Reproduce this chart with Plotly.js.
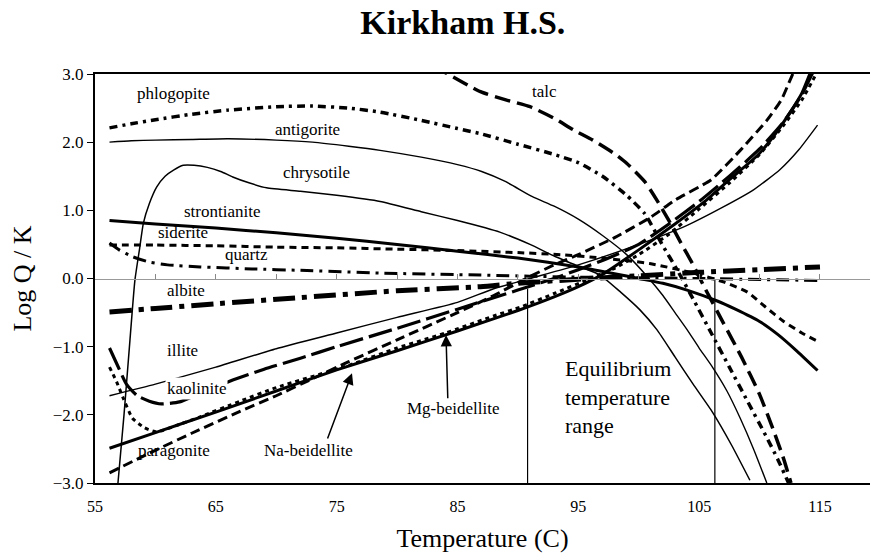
<!DOCTYPE html>
<html><head><meta charset="utf-8">
<script src="https://cdn.plot.ly/plotly-3.0.1.min.js"></script>
<style>html,body{margin:0;padding:0;background:#fff}#chart{width:870px;height:557px}</style>
</head><body><div id="chart"></div>
<script>
// ---- data (Temperature in C, Log Q/K) ----
const phlogopiteT = [56.2,58,60,63,66,70,73,76,78.6,82,85,87,90,93,95,97,99,100.5,102,103.2,104.5,106,107.5,109,110.5,111.5,112.4];
const phlogopiteY = [2.21,2.27,2.33,2.41,2.47,2.52,2.53,2.5,2.44,2.32,2.2,2.12,1.97,1.82,1.7,1.5,1.22,0.95,0.48,0.12,-0.3,-0.8,-1.3,-1.8,-2.3,-2.65,-3.0];

const talcT = [83,84,86.9,89,91,93,94.6,96.2,98,99,100.5,101.5,102.5,103.5,104.5,105.5,107,108.5,110,111.2,112,112.6];
const talcY = [3.12,3.02,2.74,2.62,2.52,2.35,2.18,2.03,1.83,1.69,1.42,1.15,0.85,0.52,0.2,-0.15,-0.65,-1.15,-1.7,-2.25,-2.65,-3.0];

const antigoriteT = [56.2,58,60,63,66,70,73,76,78.6,82,85,87,89,91.2,93,95,97,99,100.7,102,103,104,105,106.1,107.3,108.4,109.5,110.6];
const antigoriteY = [2.0,2.02,2.03,2.04,2.05,2.03,2.0,1.94,1.88,1.78,1.67,1.57,1.42,1.2,1.06,0.87,0.63,0.35,0.03,-0.25,-0.5,-0.75,-1.02,-1.3,-1.65,-2.05,-2.5,-3.0];

const chrysotileT = [56.9,57.4,57.85,58.3,58.7,59,59.5,60.1,60.8,61.5,62.3,63.2,64.3,65.4,66.4,67.8,69.2,72,75,78.6,82,85,88.5,91,93,95,96.8,98.5,100.1,101.5,103,104.5,106.1,107.7,109.2];
const chrysotileY = [-3.0,-2.0,-1.0,-0.03,0.45,0.81,1.1,1.34,1.5,1.59,1.66,1.66,1.63,1.57,1.49,1.4,1.33,1.28,1.22,1.13,0.98,0.85,0.68,0.5,0.33,0.18,0.05,-0.2,-0.46,-0.75,-1.15,-1.55,-1.96,-2.45,-2.96];

const strontianiteT = [56.2,60,65,70,75,80,85,90,95,98,100,102,104,106.5,108,110,111.5,113,114.8];
const strontianiteY = [0.85,0.8,0.74,0.67,0.59,0.5,0.4,0.3,0.17,0.07,0.0,-0.07,-0.17,-0.33,-0.45,-0.63,-0.82,-1.05,-1.35];

const sideriteT = [56.2,60,65,70,75,80,85,90,93.5,97,100.9,104.5,107,109,110.5,112,113.5,114.8];
const sideriteY = [0.49,0.49,0.48,0.46,0.45,0.43,0.41,0.38,0.35,0.3,0.22,0.08,-0.05,-0.2,-0.42,-0.63,-0.8,-0.92];

const quartzT = [56.2,57,58.1,59.5,61,63.7,68,72,78.6,86.9,95,105,115];
const quartzY = [0.52,0.42,0.32,0.24,0.2,0.17,0.14,0.12,0.08,0.05,0.02,0.0,-0.03];

const albiteT = [56.2,60,65,72,80,86.9,90,95,100,105,110,115];
const albiteY = [-0.49,-0.44,-0.37,-0.28,-0.18,-0.12,-0.07,-0.01,0.04,0.09,0.13,0.17];

const kaoliniteT = [56.2,56.8,57.6,58.5,59.5,60.5,62,64,66.4,69,72,75,80,85,90,93,95,97.5,100,102.5,105,107.5,110,112,113.5,114.4];
const kaoliniteY = [-1.02,-1.25,-1.55,-1.72,-1.8,-1.84,-1.81,-1.66,-1.49,-1.33,-1.17,-1.0,-0.73,-0.45,-0.17,0.0,0.13,0.3,0.5,0.8,1.13,1.5,1.9,2.3,2.7,3.02];

const mgBeidelliteT = [56.2,56.8,57.3,58.1,59.1,60.1,62,63.7,67,70,75.9,80,84,88,90.2,93,96,98,100,102.5,105,107.5,110,112,113.5,114.75];
const mgBeidelliteY = [-1.3,-1.52,-1.74,-2.05,-2.19,-2.25,-2.14,-2.03,-1.8,-1.6,-1.28,-1.02,-0.8,-0.55,-0.42,-0.22,0.0,0.15,0.35,0.65,1.02,1.4,1.82,2.25,2.62,3.02];

const naBeidelliteT = [56.2,60,65,70,75,80,85,90,93,95,97,100,103,105.6,107.5,109.8,111,112.5,113.5,114.2];
const naBeidelliteY = [-2.49,-2.26,-1.96,-1.65,-1.34,-1.06,-0.77,-0.47,-0.27,-0.12,0.06,0.42,0.8,1.15,1.45,1.8,2.05,2.43,2.72,3.02];

const illiteT = [56.2,60,65,70,75,80,85,88,91,95,100,104,107,109.5,111.7,113.3,114.8];
const illiteY = [-1.72,-1.55,-1.3,-1.03,-0.8,-0.57,-0.35,-0.15,0.0,0.2,0.5,0.78,1.05,1.3,1.6,1.9,2.25];

const paragoniteT = [56.2,60,63,67,70,73,76,80,85,88,91,93,95,98,101,103,106,108.4,110.6,111.8,112.5,113];
const paragoniteY = [-2.85,-2.52,-2.27,-1.95,-1.72,-1.47,-1.22,-0.9,-0.5,-0.25,0.03,0.2,0.35,0.6,0.9,1.15,1.45,1.88,2.32,2.62,2.9,3.1];

// equilibrium temperature range markers
const eqRangeT = [90.8, 106.3];
const eqRangeTop = [-0.15, -0.02];
const axisBottom = -3.0;

// text labels
const labelText = ['phlogopite','antigorite','chrysotile','strontianite','siderite','quartz','albite','illite','kaolinite','paragonite','Na-beidellite','Mg-beidellite','talc'];
const labelT    = [61.5, 72.6, 73.3, 65.5, 62.3, 67.5, 62.5, 62.2, 63.4, 61.5, 72.7, 84.7, 92.2];
const labelY    = [2.72, 2.18, 1.55, 0.99, 0.67, 0.345, -0.17, -1.06, -1.61, -2.52, -2.52, -1.91, 2.74];

// arrows [tail T, tail Y, head T, head Y]
const naArrow = [74.2, -2.37, 76.27, -1.39];
const mgArrow = [84.2, -1.78, 84.05, -0.83];

const SERIF = 'Liberation Serif';

function line(name, x, y, width, dash){
  return {type:'scatter', mode:'lines', name:name, x:x, y:y, showlegend:false,
    line:{color:'#000', width:width, dash:dash||'solid', shape:'spline', smoothing:0.5}};
}

const traces = [
  line('antigorite', antigoriteT, antigoriteY, 1.4),
  line('chrysotile', chrysotileT, chrysotileY, 1.5),
  line('illite', illiteT, illiteY, 1.4),
  line('phlogopite', phlogopiteT, phlogopiteY, 3.5, '8px,5px,3px,5px'),
  line('talc', talcT, talcY, 3.5, '16px,7px'),
  line('strontianite', strontianiteT, strontianiteY, 3),
  line('siderite', sideriteT, sideriteY, 3, '7px,5px'),
  line('quartz', quartzT, quartzY, 3, '13px,6px,3px,6px'),
  line('albite', albiteT, albiteY, 5, '22px,7px,5px,7px'),
  line('kaolinite', kaoliniteT, kaoliniteY, 3.2, '24px,6px'),
  line('Mg-beidellite', mgBeidelliteT, mgBeidelliteY, 3, '4px,4px'),
  line('Na-beidellite', naBeidelliteT, naBeidelliteY, 3),
  line('paragonite', paragoniteT, paragoniteY, 3, '10px,5px')
];
eqRangeT.forEach(function(t, i){
  traces.push({type:'scatter', mode:'lines', xaxis:'x2', showlegend:false, name:'equilibrium range',
    x:[t, t], y:[axisBottom, eqRangeTop[i]], line:{color:'#000', width:1.2}});
});

const annotations = labelText.map(function(t, i){
  return {x:labelT[i], y:labelY[i], xref:'x', yref:'y', text:t, showarrow:false,
    font:{family:SERIF, size:17, color:'#000'},
    bgcolor: t === 'kaolinite' ? '#fff' : 'rgba(0,0,0,0)'};
});
annotations.push({x:93.7, y:-1.74, xref:'x', yref:'y', xanchor:'left', align:'left', showarrow:false,
  text:'Equilibrium<br>temperature<br>range', font:{family:SERIF, size:22, color:'#000'}});
[naArrow, mgArrow].forEach(function(a){
  annotations.push({x:a[2], y:a[3], ax:a[0], ay:a[1], xref:'x', yref:'y', axref:'x', ayref:'y',
    text:'', showarrow:true, arrowhead:2, arrowsize:1.5, arrowwidth:1.5, arrowcolor:'#000'});
});

const xRange = [55, 119.14];
const layout = {
  width:870, height:557,
  margin:{l:95, r:0, t:74, b:74},
  paper_bgcolor:'#fff', plot_bgcolor:'#fff',
  font:{family:SERIF, color:'#000'},
  title:{text:'<b>Kirkham H.S.</b>', x:0.532, xanchor:'center', y:0.96, yanchor:'middle',
    font:{family:SERIF, size:34, color:'#000'}},
  xaxis:{range:xRange, tickvals:[55,65,75,85,95,105,115], ticktext:['55','65','75','85','95','105','115'],
    showgrid:false, zeroline:false, showline:true, linecolor:'#000', linewidth:2, mirror:true,
    ticks:'', ticklabelstandoff:8, tickfont:{family:SERIF, size:16, color:'#000'},
    title:{text:'Temperature (C)', font:{family:SERIF, size:26, color:'#000'}, standoff:15}},
  xaxis2:{range:xRange, overlaying:'x', anchor:'free', position:0.5, side:'bottom',
    showticklabels:false, showgrid:false, zeroline:false, showline:true, linecolor:'#999', linewidth:1,
    ticks:'inside', ticklen:5, tickcolor:'#888', tickwidth:1, tick0:55, dtick:5},
  yaxis:{range:[-3, 3], dtick:1, tick0:-3, tickformat:'.1f', showgrid:false, zeroline:false,
    showline:true, linecolor:'#000', linewidth:2, ticks:'outside', ticklen:6, tickcolor:'#000',
    tickfont:{family:SERIF, size:17, color:'#000'},
    title:{text:'Log Q / K', font:{family:SERIF, size:26, color:'#000'}, standoff:14}},
  annotations:annotations,
  showlegend:false
};
Plotly.newPlot('chart', traces, layout, {displayModeBar:false, staticPlot:true});
</script></body></html>
